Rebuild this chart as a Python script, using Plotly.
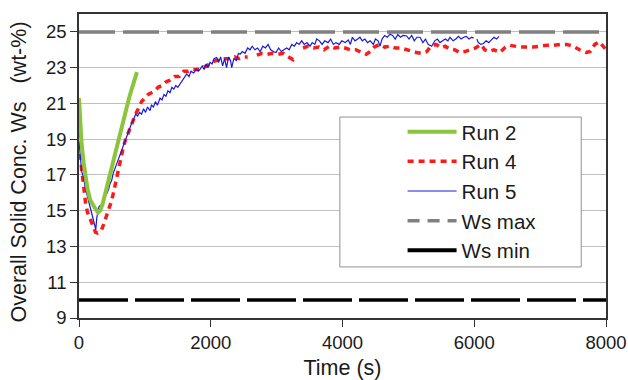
import plotly.graph_objects as go

# ---------------- data ----------------
run2_t = [0, 20, 40, 70, 100, 130, 170, 210, 250, 290, 320, 360, 400, 440, 480, 520, 560, 600, 640, 680, 720, 760, 800, 840, 880]
run2_v = [21.3, 19.9, 18.7, 17.7, 16.8, 16.2, 15.6, 15.3, 15.1, 14.9, 15.0, 15.4, 16.0, 16.6, 17.1, 17.7, 18.3, 18.9, 19.7, 20.3, 20.85, 21.3, 21.8, 22.25, 22.75]

run4_t = [0, 20, 40, 70, 100, 130, 160, 190, 220, 250, 280, 310, 340, 370, 400, 430, 460, 490, 520, 550,
          580, 610, 640, 670, 700, 740, 780, 820, 860, 900, 950, 1000, 1050, 1100, 1150, 1200, 1260, 1320, 1380, 1450,
          1520, 1590, 1660, 1730, 1800, 1870, 1940, 2010, 2080, 2150, 2220, 2290, 2360, 2430, 2500, 2560, 2630,
          2700, 2780, 2860, 2940, 3020, 3100, 3180, 3250, 3280, 3340,
          3400, 3480, 3560, 3640, 3720, 3800, 3880, 3960, 4040, 4120, 4200, 4280, 4360, 4420, 4480, 4560, 4640, 4720,
          4800, 4880, 4960, 5040, 5120, 5200, 5280, 5340, 5420, 5500, 5560, 5620, 5700, 5780, 5860, 5940, 6020, 6100,
          6160, 6220, 6300, 6390, 6460, 6540, 6620, 6700, 6800, 6900, 7000, 7100, 7200, 7300, 7400, 7500, 7600, 7700,
          7760, 7830, 7900, 7950, 8000]
run4_v = [19.4, 18.2, 17.3, 16.4, 15.4, 14.9, 14.6, 14.3, 14.0, 13.8, 13.75, 13.8, 13.9, 14.2, 14.5, 14.8, 15.1, 15.5, 15.95, 16.5,
          17.0, 17.5, 18.0, 18.5, 18.9, 19.3, 19.7, 20.1, 20.4, 20.7, 21.1, 21.3, 21.5, 21.6, 21.7, 21.9, 22.0, 22.2, 22.3, 22.5,
          22.5, 22.8, 22.8, 22.9, 22.9, 23.0, 23.1, 23.3, 23.4, 23.4, 23.5, 23.5, 23.6, 23.5, 23.6, 23.6, None,
          23.7, 23.8, 23.75, 23.8, 23.75, 23.8, 23.6, 23.45, 23.6, None,
          24.1, 24.2, 24.1, 24.15, 24.0, 24.2, 24.1, 24.15, 24.1, 24.0, 24.0, 23.9, 23.75, 23.9, 24.15, 24.3, 24.15, 24.2,
          24.1, 24.1, 24.0, 23.9, 23.85, 23.8, 23.9, 24.2, 24.3, 24.1, 24.2, 24.05, 24.0, 23.85, 23.9, 24.0, 24.1, 24.3,
          24.0, 23.9, 24.0, 23.85, 24.1, 24.25, 24.2, 24.15, 24.15, 24.15, 24.2, 24.25, 24.25, 24.3, 24.3, 24.2, 24.0, 23.85,
          23.9, 24.3, 24.45, 24.2, 24.0]

run5_t = [0, 20, 40, 66, 100, 142, 180, 217, 240, 255, 270, 283, 300, 318, 340, 360, 390, 420, 450, 470,
          496, 520, 541, 570, 600, 630, 660, 690, 720, 750, 774, 800, 830, 860, 890, 920, 950, 980, 1010, 1040,
          1078, 1100, 1130, 1160, 1190, 1230, 1260, 1290, 1320, 1350, 1381, 1410, 1440, 1470, 1500, 1533, 1560, 1600, 1635, 1670,
          1700, 1740, 1780, 1810, 1837, 1870, 1900, 1930, 1960, 1990, 2020, 2050, 2090, 2120, 2150, 2180, 2210, 2240, 2270, 2300,
          2318, 2350, 2390, 2420, 2444, 2480, 2520, 2560, 2596, 2630, 2670, 2710, 2750, 2790, 2830, 2870, 2910, 2950, 2990, 3030,
          3070, 3110, 3153, 3190, 3230, 3270, 3304, 3340, 3380, 3420, 3460, 3507, 3540, 3580, 3608, 3650, 3690, 3730, 3780, 3820,
          3861, 3900, 3950, 3990, 4040, 4088, 4120, 4150, 4190, 4230, 4265, 4300, 4340, 4380, 4420, 4468, 4500, 4540, 4570, 4600,
          4640, 4680, 4721, 4760, 4800, 4840, 4880, 4920, 4974, 5010, 5050, 5090, 5130, 5177, 5220, 5260, 5300, 5354, 5400, 5440,
          5480, 5520, 5560, 5600, 5632, 5680, 5720, 5760, 5800, 5840, 5880, 5920, 5961, 5990, 6015,
          6040, 6062, 6100, 6140, 6180, 6220, 6260, 6300, 6340, 6375]
run5_v = [18.9, 17.8, 17.2, 16.9, 16.2, 15.6, 15.0, 14.5, 14.1, 13.95, 14.6, 14.9, 15.2, 15.3, 15.1, 15.6, 15.7, 15.95, 16.2, 16.5,
          16.7, 17.1, 17.3, 17.5, 17.9, 18.2, 18.5, 18.8, 19.1, 19.4, 19.7, 19.9, 20.1, 20.4, 20.3, 20.5, 20.4, 20.7, 20.5, 20.8,
          20.6, 20.9, 20.8, 21.1, 20.9, 21.3, 21.2, 21.5, 21.4, 21.7, 21.6, 21.9, 21.8, 22.0, 21.9, 22.1, 22.2, 22.5, 22.65, 22.5,
          22.8, 22.7, 22.9, 22.8, 22.9, 23.1, 22.9, 23.2, 23.0, 23.3, 23.2, 23.5, 23.57, 23.3, 23.6, 23.1, 23.5, 23.0, 23.6, 23.4,
          23.0, 23.5, 23.4, 23.8, 23.75, 23.9, 23.8, 24.1, 24.0, 24.2, 24.0, 24.1, 23.9, 24.2, 24.1, 24.3, 24.0, 23.9, 23.85, 24.1,
          23.9, 24.0, 24.1, 24.0, 24.3, 24.2, 24.4, 24.3, 24.5, 24.3, 24.4, 24.2, 24.4, 24.3, 24.6, 24.5, 24.3, 24.5, 24.4, 24.6,
          24.3, 24.4, 24.3, 24.5, 24.4, 24.55, 24.3, 24.7, 24.5, 24.6, 24.7, 24.5, 24.6, 24.4, 24.5, 24.3, 24.6, 24.5, 24.2, 24.6,
          24.8, 24.7, 24.87, 24.8, 24.6, 24.85, 24.7, 24.8, 24.77, 24.6, 24.8, 24.5, 24.7, 24.7, 24.4, 24.6, 24.3, 24.2, 24.5, 24.6,
          24.4, 24.5, 24.6, 24.5, 24.7, 24.5, 24.6, 24.75, 24.6, 24.7, 24.75, 24.6, 24.7, 24.65, None,
          24.6, 24.4, 24.3, 24.35, 24.5, 24.4, 24.55, 24.7, 24.6, 24.75]

ws_t = [0, 8000]
ws_max = [25.0, 25.0]
ws_min = [10.0, 10.0]

x_ticks = [0, 2000, 4000, 6000, 8000]
y_ticks = [9, 11, 13, 15, 17, 19, 21, 23, 25]

FONT = "Liberation Sans, Arial, sans-serif"

fig = go.Figure()
fig.add_trace(go.Scatter(x=ws_t, y=ws_max, mode="lines", name="Ws max",
                         line=dict(color="#808080", width=3.5, dash="36px,8px"), showlegend=False))
fig.add_trace(go.Scatter(x=ws_t, y=ws_min, mode="lines", name="Ws min",
                         line=dict(color="black", width=3.5, dash="49px,7px"), showlegend=False))
fig.add_trace(go.Scatter(x=run4_t, y=run4_v, mode="lines", name="Run 4",
                         line=dict(color="#ff1a1a", width=3.5, dash="6px,5px"), showlegend=False))
fig.add_trace(go.Scatter(x=run5_t, y=run5_v, mode="lines", name="Run 5",
                         line=dict(color="#1a1ad6", width=1.2), showlegend=False))
fig.add_trace(go.Scatter(x=run2_t, y=run2_v, mode="lines", name="Run 2",
                         line=dict(color="#8cc43c", width=4), showlegend=False))

# legend entries
fig.add_trace(go.Scatter(x=[None], y=[None], mode="lines", name="Run 2",
                         line=dict(color="#8cc43c", width=4)))
fig.add_trace(go.Scatter(x=[None], y=[None], mode="lines", name="Run 4",
                         line=dict(color="#ff1a1a", width=3.5, dash="6px,5px")))
fig.add_trace(go.Scatter(x=[None], y=[None], mode="lines", name="Run 5",
                         line=dict(color="#1a1ad6", width=1.2)))
fig.add_trace(go.Scatter(x=[None], y=[None], mode="lines", name="Ws max",
                         line=dict(color="#808080", width=3.5, dash="12px,8px")))
fig.add_trace(go.Scatter(x=[None], y=[None], mode="lines", name="Ws min",
                         line=dict(color="black", width=4)))

fig.add_shape(type="rect", xref="paper", yref="paper", x0=0.495, x1=0.953, y0=0.168, y1=0.661,
              line=dict(color="#909090", width=1), fillcolor="white", layer="above")

fig.update_layout(
    width=628, height=380,
    margin=dict(l=79, r=22, t=14, b=62),
    paper_bgcolor="white", plot_bgcolor="white",
    font=dict(family=FONT, size=18.5, color="#1a1a1a"),
    legend=dict(x=0.614, y=0.678, xanchor="left", yanchor="top",
                bgcolor="rgba(0,0,0,0)", borderwidth=0, itemwidth=49,
                font=dict(size=20.5), tracegroupgap=0),
    xaxis=dict(range=[0, 8000], tickvals=x_ticks, showgrid=False, zeroline=False, automargin=False,
               showline=True, linecolor="#333333", linewidth=1.5, mirror=True,
               ticks="outside", ticklen=7, tickcolor="#333333",
               title=dict(text="Time (s)", font=dict(size=21.5), standoff=12)),
    yaxis=dict(range=[9, 26], tickvals=y_ticks, showgrid=True, gridcolor="#c0c0c0", gridwidth=1,
               zeroline=False, showline=True, linecolor="#333333", linewidth=1.5, mirror=True, automargin=False,
               ticks="outside", ticklen=7, tickcolor="#333333",
               title=dict(text="Overall Solid Conc. Ws&nbsp;&nbsp;&nbsp;(wt-%)&nbsp;&nbsp;", font=dict(size=21.5), standoff=13)),
)

fig.write_html("out.html")
